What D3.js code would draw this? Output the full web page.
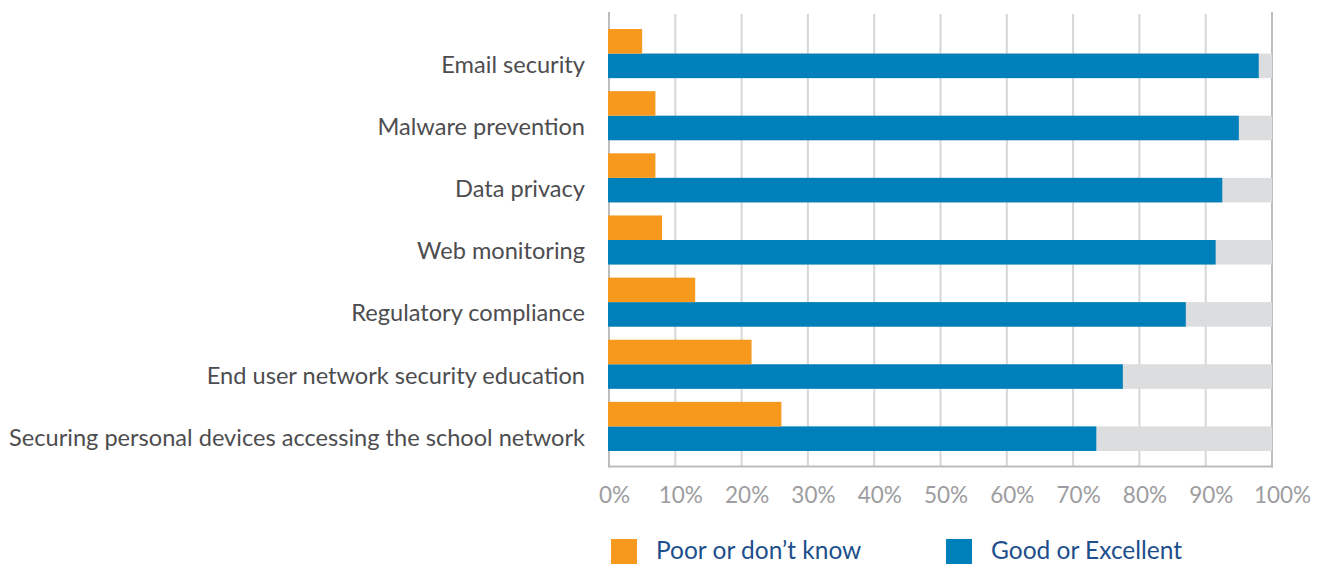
<!DOCTYPE html>
<html><head><meta charset="utf-8">
<script src="https://cdn.jsdelivr.net/npm/d3@7"></script>
<style>body{margin:0;background:#fff}svg{display:block}</style>
</head><body><svg id="c" width="1329" height="565"></svg>
<script>
const categories = [
  "Email security",
  "Malware prevention",
  "Data privacy",
  "Web monitoring",
  "Regulatory compliance",
  "End user network security education",
  "Securing personal devices accessing the school network"
];
const poorValues = [5, 7, 7, 8, 13, 21.5, 26];
const goodValues = [98, 95, 92.5, 91.5, 87, 77.5, 73.5];
const trackValue = 100;
const tickValues = [0, 10, 20, 30, 40, 50, 60, 70, 80, 90, 100];
const tickLabels = ["0%", "10%", "20%", "30%", "40%", "50%", "60%", "70%", "80%", "90%", "100%"];
const seriesNames = ["Poor or don\u2019t know", "Good or Excellent"];
const seriesColors = ["#f7991c", "#0080bb"];

const svg = d3.select("#c");
const font = "Lato, 'Open Sans', sans-serif";
const x = d3.scaleLinear().domain([0, 100]).range([609, 1272]);
const y = d3.scaleBand().domain(categories).range([22.5, 457.5]).paddingInner(0.21).paddingOuter(0.105);
const half = y.bandwidth() / 2;
const plotTop = 12, plotBottom = 466.5;

// gridlines
svg.append("g").selectAll("line")
  .data(tickValues.filter(v => v > 0 && v < 100)).join("line")
  .attr("x1", d => x(d)).attr("x2", d => x(d))
  .attr("y1", 14).attr("y2", plotBottom)
  .attr("stroke", "#d6d6d7").attr("stroke-width", 2);

// frame
const frame = svg.append("g").attr("stroke", "#bdbdc0").attr("stroke-width", 2);
frame.append("line").attr("x1", x(0)).attr("x2", x(0)).attr("y1", plotTop).attr("y2", plotBottom + 1);
frame.append("line").attr("x1", x(100)).attr("x2", x(100)).attr("y1", plotTop).attr("y2", plotBottom + 1);
frame.append("line").attr("x1", x(0) - 1).attr("x2", x(100) + 1).attr("y1", plotBottom).attr("y2", plotBottom);

const rows = categories.map((c, i) => ({c, poor: poorValues[i], good: goodValues[i]}));

// track bars
svg.append("g").selectAll("rect").data(rows).join("rect")
  .attr("x", x(0) - 1).attr("y", d => y(d.c) + half)
  .attr("width", x(trackValue) - x(0) + 1).attr("height", half)
  .attr("fill", "#dcddde");
// good bars
svg.append("g").selectAll("rect").data(rows).join("rect")
  .attr("x", x(0) - 1).attr("y", d => y(d.c) + half)
  .attr("width", d => x(d.good) - x(0) + 1).attr("height", half)
  .attr("fill", seriesColors[1]);
// poor bars
svg.append("g").selectAll("rect").data(rows).join("rect")
  .attr("x", x(0) - 1).attr("y", d => y(d.c))
  .attr("width", d => x(d.poor) - x(0) + 1).attr("height", half)
  .attr("fill", seriesColors[0]);

// category labels
svg.append("g").selectAll("text").data(rows).join("text")
  .attr("x", 585).attr("y", d => y(d.c) + half * 1.5)
  .attr("dy", "0.3em")
  .attr("text-anchor", "end")
  .attr("font-family", font).attr("font-size", 23.6)
  .attr("fill", "#4d4d4f")
  .text(d => d.c);

// x axis
const axis = d3.axisBottom(x).tickValues(tickValues)
  .tickFormat((d, i) => tickLabels[i]).tickSize(0).tickPadding(21);
const ag = svg.append("g").attr("transform", `translate(0,${plotBottom})`).call(axis);
ag.select(".domain").remove();
ag.selectAll("text").attr("dx", (d, i) => i === tickValues.length - 1 ? 10 : 5)
  .attr("font-family", font).attr("font-size", 22.5).attr("fill", "#9d9d9f");

// legend
const legendX = [611, 946];
const lg = svg.append("g");
lg.selectAll("rect").data(seriesNames).join("rect")
  .attr("x", (d, i) => legendX[i]).attr("y", 539).attr("width", 26).attr("height", 25)
  .attr("fill", (d, i) => seriesColors[i]);
lg.selectAll("text").data(seriesNames).join("text")
  .attr("x", (d, i) => legendX[i] + 45).attr("y", 559)
  .attr("font-family", font).attr("font-size", 24.5)
  .attr("fill", "#1d4f8c")
  .text(d => d);
</script></body></html>
